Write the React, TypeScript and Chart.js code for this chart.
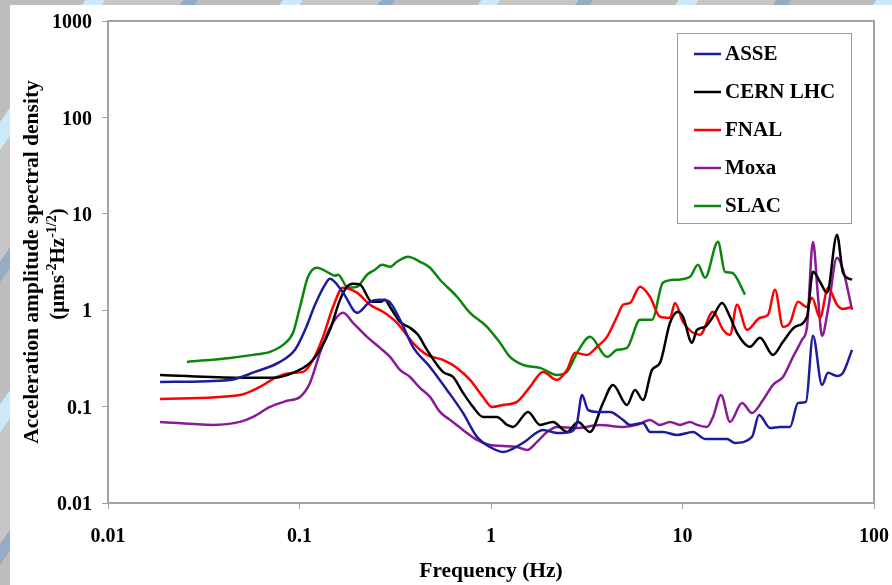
import React, { useEffect, useRef } from 'react';
import { Chart, registerables } from 'chart.js';

Chart.register(...registerables);

const seriesNames = ['ASSE', 'CERN LHC', 'FNAL', 'Moxa', 'SLAC'];
const seriesColors = ['#1c1c9c', '#000000', '#ff0000', '#8a1a96', '#0a870a'];

const xTickValues = [0.01, 0.1, 1, 10, 100];
const xTickLabels = ['0.01', '0.1', '1', '10', '100'];
const yTickValues = [0.01, 0.1, 1, 10, 100, 1000];
const yTickLabels = ['0.01', '0.1', '1', '10', '100', '1000'];

const xTitle = 'Frequency (Hz)';
const yTitleLine1 = 'Acceleration amplitude spectral density';

const asseFreq = [0.0187, 0.0434, 0.0585, 0.0791, 0.0947, 0.107, 0.1205, 0.136, 0.144, 0.169, 0.2, 0.233, 0.263, 0.29, 0.335, 0.391, 0.48, 0.589, 0.714, 0.845, 0.988, 1.155, 1.469, 1.869, 2.211, 2.586, 2.813, 2.987, 3.211, 3.577, 4.183, 4.891, 5.319, 6.219, 6.766, 7.911, 9.361, 11.35, 13.11, 17.08, 18.8, 23.07, 25.09, 28.64, 32.3, 36.42, 40.1, 44.15, 48.02, 53.52, 57.52, 64.09, 68.87, 76.78];
const asseAmp = [0.18, 0.189, 0.229, 0.291, 0.388, 0.626, 1.14, 1.84, 2.12, 1.52, 0.94, 1.22, 1.28, 1.25, 0.795, 0.417, 0.258, 0.149, 0.086, 0.0485, 0.0381, 0.0339, 0.042, 0.0573, 0.0533, 0.0546, 0.0677, 0.132, 0.0924, 0.0881, 0.0881, 0.0728, 0.0646, 0.0677, 0.0546, 0.0546, 0.0508, 0.0546, 0.0462, 0.0462, 0.042, 0.0485, 0.082, 0.0601, 0.0616, 0.0616, 0.109, 0.112, 0.542, 0.168, 0.224, 0.208, 0.224, 0.388];

const cernFreq = [0.0187, 0.0489, 0.0727, 0.0925, 0.1134, 0.1279, 0.1443, 0.1627, 0.177, 0.1903, 0.207, 0.2391, 0.2633, 0.2796, 0.297, 0.3348, 0.3776, 0.4157, 0.4632, 0.5614, 0.6333, 0.714, 0.8054, 0.9084, 1.075, 1.212, 1.303, 1.561, 1.803, 2.107, 2.494, 2.847, 3.289, 3.845, 4.337, 5.131, 5.649, 6.219, 6.93, 7.63, 8.605, 9.474, 10.06, 11.21, 11.9, 13.11, 14.43, 16.08, 17.7, 19.26, 22.52, 25.39, 29.69, 33.48, 38.68, 44.68, 48.02, 52.24, 56.83, 64.09, 68.87, 76.78];
const cernAmp = [0.213, 0.199, 0.199, 0.224, 0.284, 0.388, 0.626, 1.28, 1.75, 1.88, 1.84, 1.22, 1.22, 1.28, 1.08, 0.758, 0.657, 0.555, 0.388, 0.229, 0.203, 0.139, 0.0993, 0.0782, 0.0782, 0.0646, 0.0616, 0.0881, 0.0646, 0.0694, 0.0546, 0.0694, 0.0546, 0.109, 0.168, 0.104, 0.149, 0.117, 0.24, 0.284, 0.74, 0.963, 0.854, 0.459, 0.626, 0.672, 0.854, 1.19, 0.854, 0.583, 0.417, 0.517, 0.344, 0.47, 0.672, 0.854, 2.5, 1.97, 1.52, 6.07, 2.45, 2.07];

const fnalFreq = [0.0187, 0.0489, 0.0622, 0.0763, 0.0925, 0.1043, 0.1176, 0.1327, 0.1496, 0.1687, 0.1996, 0.2334, 0.2729, 0.3229, 0.3913, 0.4632, 0.5614, 0.6645, 0.7771, 0.9084, 1.012, 1.155, 1.367, 1.599, 1.869, 2.211, 2.494, 2.746, 3.172, 3.577, 4.035, 4.55, 4.891, 5.319, 5.999, 6.766, 7.63, 8.605, 9.139, 10.06, 12.34, 14.43, 16.28, 17.7, 19.26, 21.72, 25.39, 27.96, 30.41, 33.48, 36.42, 40.1, 44.68, 47.45, 52.24, 57.52, 64.09, 68.87, 76.78];
const fnalAmp = [0.12, 0.132, 0.16, 0.203, 0.224, 0.229, 0.305, 0.529, 1.08, 1.71, 1.52, 1.14, 0.963, 0.74, 0.459, 0.344, 0.305, 0.252, 0.189, 0.126, 0.0993, 0.104, 0.112, 0.16, 0.229, 0.189, 0.24, 0.361, 0.344, 0.417, 0.529, 0.854, 1.14, 1.19, 1.75, 1.38, 0.854, 0.834, 1.19, 0.758, 0.555, 0.963, 0.626, 0.555, 1.14, 0.626, 0.834, 0.896, 1.63, 0.672, 0.74, 1.22, 1.08, 1.35, 0.834, 1.71, 1.14, 1.03, 1.08];

const moxaFreq = [0.0187, 0.0353, 0.0489, 0.0572, 0.0701, 0.0861, 0.1006, 0.1134, 0.1279, 0.1443, 0.1687, 0.1903, 0.2252, 0.2633, 0.297, 0.3348, 0.3776, 0.4258, 0.4802, 0.5417, 0.6108, 0.714, 0.8452, 0.988, 1.155, 1.367, 1.542, 1.739, 1.961, 2.211, 2.813, 3.709, 4.891, 5.787, 6.766, 7.63, 8.605, 9.7, 10.94, 11.9, 13.43, 14.43, 15.89, 17.7, 20.45, 23.07, 26.33, 29.69, 33.48, 37.76, 42.07, 44.68, 48.02, 51.0, 53.52, 57.52, 64.09, 68.87, 76.78];
const moxaAmp = [0.0694, 0.0646, 0.0694, 0.0782, 0.0993, 0.115, 0.126, 0.176, 0.361, 0.657, 0.94, 0.74, 0.529, 0.407, 0.328, 0.24, 0.203, 0.156, 0.126, 0.0881, 0.0728, 0.0573, 0.0451, 0.04, 0.0391, 0.0381, 0.0355, 0.043, 0.0546, 0.0616, 0.0601, 0.0646, 0.0616, 0.0646, 0.0728, 0.0646, 0.0694, 0.0646, 0.0694, 0.0646, 0.0616, 0.0782, 0.132, 0.0694, 0.109, 0.086, 0.117, 0.168, 0.203, 0.328, 0.493, 0.672, 5.13, 1.38, 0.542, 1.01, 3.5, 2.63, 1.01];

const slacFreq = [0.02585, 0.0434, 0.0572, 0.0701, 0.082, 0.0925, 0.1006, 0.1108, 0.1234, 0.1392, 0.1532, 0.1589, 0.1792, 0.1996, 0.2252, 0.2479, 0.2697, 0.297, 0.3229, 0.3686, 0.4258, 0.4802, 0.5417, 0.6645, 0.7771, 0.953, 1.114, 1.257, 1.469, 1.803, 2.211, 2.494, 2.813, 3.289, 4.035, 4.55, 5.131, 5.999, 6.93, 7.911, 9.361, 10.94, 12.05, 13.11, 15.32, 16.67, 18.14, 21.21];
const slacAmp = [0.291, 0.32, 0.344, 0.37, 0.437, 0.583, 1.08, 2.22, 2.76, 2.5, 2.28, 2.33, 1.71, 1.75, 2.33, 2.63, 2.96, 2.82, 3.18, 3.58, 3.18, 2.76, 2.07, 1.38, 0.94, 0.672, 0.459, 0.328, 0.271, 0.252, 0.213, 0.229, 0.361, 0.529, 0.328, 0.388, 0.407, 0.795, 0.795, 1.93, 2.07, 2.22, 2.96, 2.17, 5.13, 2.5, 2.45, 1.45];

const seriesFreqs = [asseFreq, cernFreq, fnalFreq, moxaFreq, slacFreq];
const seriesAmps = [asseAmp, cernAmp, fnalAmp, moxaAmp, slacAmp];

const FONT = '"Liberation Serif", "Times New Roman", serif';
const AXIS_COLOR = '#a3a3a3';

function pairs(xs: number[], ys: number[]) {
  const n = Math.min(xs.length, ys.length);
  const out: { x: number; y: number }[] = [];
  for (let i = 0; i < n; i++) out.push({ x: xs[i], y: ys[i] });
  return out;
}

const decorPlugin = {
  id: 'decor',
  afterDraw(chart: any) {
    const { ctx, chartArea: a } = chart;
    ctx.save();
    // top and right frame
    ctx.strokeStyle = AXIS_COLOR;
    ctx.lineWidth = 2;
    ctx.beginPath();
    ctx.moveTo(a.left, a.top);
    ctx.lineTo(a.right, a.top);
    ctx.lineTo(a.right, a.bottom);
    ctx.stroke();

    // legend box
    const bx = a.right - 197;
    const by = a.top + 12;
    const bw = 174;
    const bh = 190;
    ctx.fillStyle = '#ffffff';
    ctx.fillRect(bx, by, bw, bh);
    ctx.strokeStyle = '#9a9a9a';
    ctx.lineWidth = 1;
    ctx.strokeRect(bx + 0.5, by + 0.5, bw, bh);
    ctx.font = `bold 21px ${FONT}`;
    ctx.textBaseline = 'middle';
    ctx.textAlign = 'left';
    chart.data.datasets.forEach((ds: any, i: number) => {
      const y = by + 21 + i * 38;
      ctx.strokeStyle = ds.borderColor;
      ctx.lineWidth = 2.5;
      ctx.beginPath();
      ctx.moveTo(bx + 17, y);
      ctx.lineTo(bx + 44, y);
      ctx.stroke();
      ctx.fillStyle = '#000';
      ctx.fillText(ds.label, bx + 48, y + 1);
    });

    // x title
    ctx.fillStyle = '#000';
    ctx.font = `bold 21.5px ${FONT}`;
    ctx.textAlign = 'center';
    ctx.textBaseline = 'alphabetic';
    ctx.fillText(xTitle, (a.left + a.right) / 2, 577);

    // y title (two rotated lines)
    const cy = (a.top + a.bottom) / 2;
    ctx.save();
    ctx.translate(38, cy);
    ctx.rotate(-Math.PI / 2);
    ctx.textAlign = 'center';
    ctx.fillText(yTitleLine1, 0, 0);
    ctx.restore();

    const parts: { t: string; sup: boolean }[] = [
      { t: '(\u03bcms', sup: false },
      { t: '-2', sup: true },
      { t: 'Hz', sup: false },
      { t: '-1/2', sup: true },
      { t: ')', sup: false },
    ];
    const mainFont = `bold 21px ${FONT}`;
    const supFont = `bold 14px ${FONT}`;
    let total = 0;
    parts.forEach((p) => {
      ctx.font = p.sup ? supFont : mainFont;
      total += ctx.measureText(p.t).width;
    });
    ctx.save();
    ctx.translate(64, cy + 2);
    ctx.rotate(-Math.PI / 2);
    ctx.textAlign = 'left';
    let px = -total / 2;
    parts.forEach((p) => {
      ctx.font = p.sup ? supFont : mainFont;
      ctx.fillText(p.t, px, p.sup ? -8 : 0);
      px += ctx.measureText(p.t).width;
    });
    ctx.restore();

    ctx.restore();
  },
};

export default function App() {
  const ref = useRef<HTMLCanvasElement | null>(null);

  useEffect(() => {
    if (!ref.current) return;
    const datasets = seriesNames.map((name, i) => ({
      label: name,
      data: pairs(seriesFreqs[i], seriesAmps[i]),
      borderColor: seriesColors[i],
      backgroundColor: seriesColors[i],
      borderWidth: 2.5,
      pointRadius: 0,
      fill: false,
      cubicInterpolationMode: 'monotone' as const,
    }));

    const chart = new Chart(ref.current, {
      type: 'line',
      data: { datasets },
      options: {
        animation: false,
        responsive: false,
        maintainAspectRatio: false,
        layout: { padding: { left: 0, top: 21, right: 18, bottom: 0 } },
        plugins: {
          legend: { display: false },
          tooltip: { enabled: false },
          title: { display: false },
        },
        scales: {
          x: {
            type: 'logarithmic',
            min: 0.01,
            max: 100,
            afterBuildTicks: (scale: any) => {
              scale.ticks = xTickValues.map((v) => ({ value: v }));
            },
            afterFit: (scale: any) => {
              scale.height = 82;
              scale.paddingLeft = 0;
              scale.paddingRight = 0;
            },
            ticks: {
              autoSkip: false,
              maxRotation: 0,
              padding: 16,
              color: '#000',
              font: { family: FONT, size: 20, weight: 'bold' },
              callback: (_v: any, i: number) => xTickLabels[i],
            },
            grid: {
              display: true,
              drawOnChartArea: false,
              drawTicks: true,
              tickLength: 6,
              color: AXIS_COLOR,
            },
            border: { display: true, color: AXIS_COLOR, width: 2 },
          },
          y: {
            type: 'logarithmic',
            min: 0.01,
            max: 1000,
            afterBuildTicks: (scale: any) => {
              scale.ticks = yTickValues.map((v) => ({ value: v }));
            },
            afterFit: (scale: any) => {
              scale.width = 108;
              scale.paddingTop = 0;
              scale.paddingBottom = 0;
            },
            ticks: {
              autoSkip: false,
              padding: 10,
              labelOffset: 2,
              color: '#000',
              font: { family: FONT, size: 20, weight: 'bold' },
              callback: (_v: any, i: number) => yTickLabels[i],
            },
            grid: {
              display: true,
              drawOnChartArea: false,
              drawTicks: true,
              tickLength: 6,
              color: AXIS_COLOR,
            },
            border: { display: true, color: AXIS_COLOR, width: 2 },
          },
        },
      },
      plugins: [decorPlugin],
    } as any);

    return () => chart.destroy();
  }, []);

  return (
    <div
      style={{
        position: 'fixed',
        left: 0,
        top: 0,
        width: 892,
        height: 585,
        overflow: 'hidden',
        background:
          'repeating-linear-gradient(125deg, #bdbdbd 0px, #bdbdbd 70px, #cde9f9 70px, #cde9f9 86px, #c6c6c6 86px, #c6c6c6 150px, #93adc4 150px, #93adc4 162px)',
      }}
    >
      <div
        style={{
          position: 'absolute',
          left: 10,
          top: 5,
          right: 0,
          bottom: 0,
          background: '#ffffff',
        }}
      />
      <canvas
        ref={ref}
        width={892}
        height={585}
        style={{ position: 'absolute', left: 0, top: 0, width: 892, height: 585 }}
      />
    </div>
  );
}
